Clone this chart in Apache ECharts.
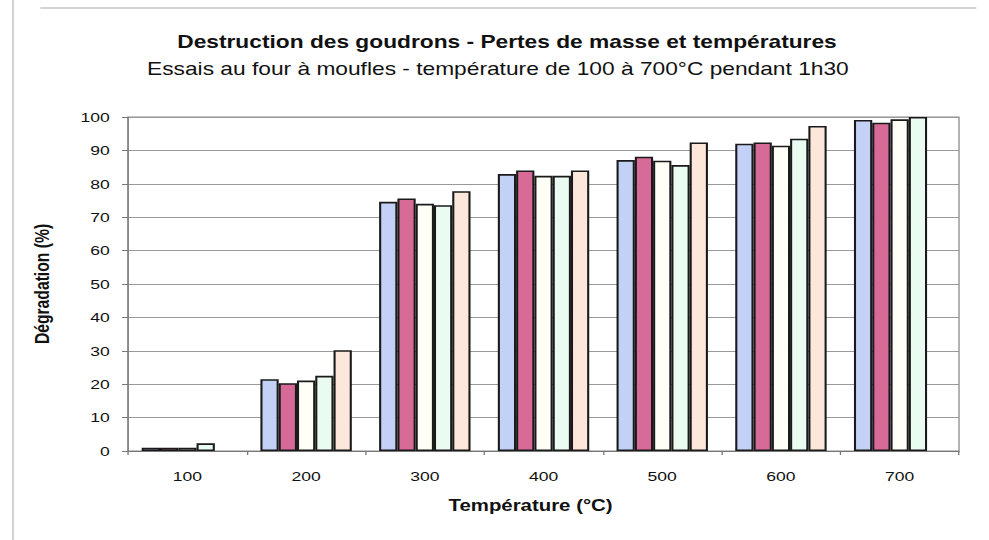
<!DOCTYPE html>
<html>
<head>
<meta charset="utf-8">
<script src="https://cdn.jsdelivr.net/npm/echarts@6/dist/echarts.min.js"></script>
<style>
  html, body { margin: 0; padding: 0; background: #fff; overflow: hidden; }
  #frame { width: 989px; height: 540px; overflow: hidden; }
  /* the chart is laid out narrow and widened horizontally, like the printed sheet */
  #chart { width: 761px; height: 540px; transform: scaleX(1.3); transform-origin: 0 0; }
</style>
</head>
<body>
<div id="frame"><div id="chart"></div></div>
<script>
// Température de consigne du four (°C)
const temperatures = ['100', '200', '300', '400', '500', '600', '700'];

// Dégradation mesurée (%) pour chaque essai
const essai1 = [1.0, 21.5, 74.6, 82.9, 87.1, 92.0, 99.1];
const essai2 = [1.0, 20.3, 75.6, 84.0, 88.1, 92.4, 98.3];
const essai3 = [1.0, 21.1, 74.0, 82.4, 86.9, 91.4, 99.3];
const essai4 = [2.3, 22.5, 73.6, 82.4, 85.6, 93.5, 100.0];
const essai5 = [null, 30.2, 77.8, 84.0, 92.4, 97.3, null];

const yTicks = [0, 10, 20, 30, 40, 50, 60, 70, 80, 90, 100];

const seriesDefs = [
  { name: 'Essai 1', data: essai1, color: '#c3d1f6' },
  { name: 'Essai 2', data: essai2, color: '#d86a98' },
  { name: 'Essai 3', data: essai3, color: '#fffff8' },
  { name: 'Essai 4', data: essai4, color: '#eafbf2' },
  { name: 'Essai 5', data: essai5, color: '#fde7db' }
];

const font = '"Liberation Sans", Arial, sans-serif';
const chart = echarts.init(document.getElementById('chart'), null, { renderer: 'svg' });

chart.setOption({
  backgroundColor: '#ffffff',
  animation: false,
  title: [
    {
      text: 'Destruction des goudrons - Pertes de masse et températures',
      left: 385, top: 28, textAlign: 'center',
      textStyle: { fontFamily: font, fontSize: 17.5, fontWeight: 'bold', color: '#111' }
    },
    {
      text: 'Essais au four à moufles - température de 100 à 700°C pendant 1h30',
      left: 378, top: 55, textAlign: 'center',
      textStyle: { fontFamily: font, fontSize: 17.5, fontWeight: 'normal', color: '#111' }
    }
  ],
  graphic: [
    { type: 'line', shape: { x1: 31, y1: 8, x2: 751, y2: 8 }, style: { stroke: '#aaa', lineWidth: 1 } },
    { type: 'line', shape: { x1: 10, y1: 0, x2: 10, y2: 540 }, style: { stroke: '#bbb', lineWidth: 1 } }
  ],
  grid: {
    left: 98.5, right: 23.3, top: 117, bottom: 89,
    show: true, borderColor: '#8a8a8a', borderWidth: 1, backgroundColor: 'transparent'
  },
  xAxis: {
    type: 'category',
    data: temperatures,
    name: 'Température (°C)',
    nameLocation: 'middle',
    nameGap: 47,
    nameTextStyle: { fontFamily: font, fontSize: 15.7, fontWeight: 'bold', color: '#111', padding: [0, 20, 0, 0] },
    axisLine: { lineStyle: { color: '#777', width: 1 } },
    axisTick: { show: true, alignWithLabel: false, length: 4, lineStyle: { color: '#777' } },
    axisLabel: { margin: 18, fontFamily: font, fontSize: 13.5, color: '#111' },
    splitLine: { show: false }
  },
  yAxis: {
    type: 'value',
    min: yTicks[0],
    max: yTicks[yTicks.length - 1],
    interval: yTicks[1] - yTicks[0],
    name: 'Dégradation (%)',
    nameLocation: 'middle',
    nameGap: 58,
    nameRotate: 90,
    nameTextStyle: { fontFamily: font, fontSize: 15.7, fontWeight: 'bold', color: '#111' },
    axisLine: { show: true, lineStyle: { color: '#777', width: 1 } },
    axisTick: { show: true, inside: false, length: 4.6, lineStyle: { color: '#777' } },
    axisLabel: { margin: 14, fontFamily: font, fontSize: 13.5, color: '#111' },
    splitLine: { show: true, lineStyle: { color: '#999', width: 1 } }
  },
  series: seriesDefs.map(s => ({
    name: s.name,
    type: 'bar',
    data: s.data,
    barGap: '0%',
    barCategoryGap: '23%',
    itemStyle: { color: s.color, borderColor: '#1a1a1a', borderWidth: 1.6 }
  }))
});
</script>
</body>
</html>
